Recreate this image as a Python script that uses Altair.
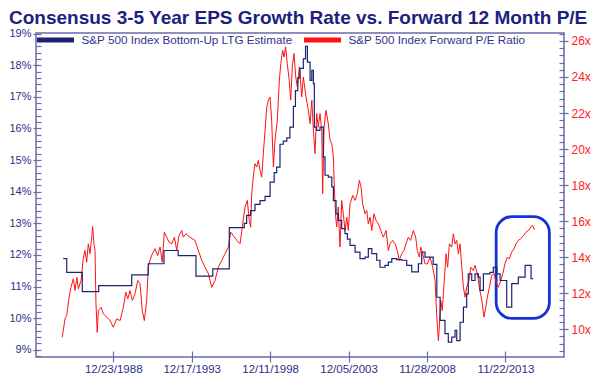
import altair as alt
import pandas as pd

# ---------------- text ----------------
title_text = "Consensus 3-5 Year EPS Growth Rate vs. Forward 12 Month P/E"
ltg_name = "S&P 500 Index Bottom-Up LTG Estimate"
pe_name = "S&P 500 Index Forward P/E Ratio"

# ---------------- data (decimal year, value) ----------------
ltg_points = [
    (1985.80, 11.88), (1986.02, 11.45), (1987.01, 10.84), (1988.05, 11.03), (1990.15, 11.37),
    (1991.20, 11.72), (1992.20, 12.14), (1993.10, 11.98), (1994.23, 11.33), (1995.30, 11.56),
    (1996.35, 12.86), (1997.30, 13.00), (1997.45, 13.25), (1997.70, 13.40), (1997.98, 13.60),
    (1998.30, 13.72), (1998.62, 13.85), (1998.94, 14.30), (1999.20, 14.60), (1999.36, 14.78),
    (1999.57, 15.50), (1999.78, 15.60), (2000.00, 15.70), (2000.20, 16.04), (2000.42, 16.70),
    (2000.55, 17.20), (2000.70, 17.60), (2000.84, 17.90), (2001.05, 18.20), (2001.19, 18.60),
    (2001.31, 18.10), (2001.48, 17.52), (2001.59, 17.84), (2001.69, 17.42), (2001.75, 16.04),
    (2001.90, 15.94), (2002.11, 16.04), (2002.32, 15.10), (2002.43, 14.52), (2002.64, 14.46),
    (2002.86, 14.15), (2002.96, 13.72), (2003.13, 13.30), (2003.27, 13.09), (2003.49, 12.83),
    (2003.70, 12.67), (2003.85, 12.50), (2004.02, 12.30), (2004.34, 12.09), (2004.65, 11.88),
    (2004.97, 11.93), (2005.18, 12.20), (2005.40, 12.04), (2005.71, 11.83), (2005.92, 11.61),
    (2006.24, 11.67), (2006.45, 11.77), (2006.67, 11.88), (2006.98, 11.85), (2007.30, 11.83),
    (2007.62, 11.67), (2007.94, 11.46), (2008.36, 11.72), (2008.57, 12.09), (2008.78, 11.93),
    (2009.30, 11.70), (2009.53, 10.66), (2009.74, 9.93), (2010.05, 9.51), (2010.26, 9.24),
    (2010.48, 9.40), (2010.69, 9.61), (2010.80, 9.29), (2011.01, 9.87), (2011.22, 10.35),
    (2011.43, 10.77), (2011.53, 11.40), (2011.75, 11.19), (2011.96, 11.40), (2012.17, 11.30),
    (2012.28, 10.88), (2012.49, 11.40), (2012.91, 11.45), (2013.12, 11.61), (2013.34, 11.40),
    (2013.55, 11.19), (2013.97, 10.35), (2014.29, 11.09), (2014.71, 11.30), (2015.14, 11.67),
    (2015.52, 11.25), (2015.65, 11.25),
]

pe_points = [
    (1985.74, 9.56), (1985.91, 10.58), (1986.02, 10.76), (1986.17, 11.78), (1986.29, 12.33),
    (1986.44, 12.80), (1986.55, 12.15), (1986.66, 12.89), (1986.76, 12.24), (1986.93, 12.70),
    (1987.07, 13.91), (1987.18, 14.37), (1987.29, 13.72), (1987.39, 14.74), (1987.50, 14.19),
    (1987.61, 15.11), (1987.67, 15.70), (1987.75, 14.74), (1987.82, 14.37), (1987.88, 11.41),
    (1987.96, 9.83), (1988.03, 11.04), (1988.20, 11.22), (1988.35, 10.86), (1988.56, 10.67),
    (1988.77, 10.48), (1988.98, 10.11), (1989.20, 10.58), (1989.41, 10.48), (1989.62, 11.22),
    (1989.77, 12.06), (1989.90, 11.69), (1990.04, 12.15), (1990.19, 11.60), (1990.36, 11.97),
    (1990.53, 12.70), (1990.68, 12.52), (1990.82, 11.04), (1990.95, 10.48), (1991.10, 11.60),
    (1991.20, 13.44), (1991.31, 13.82), (1991.46, 14.19), (1991.63, 14.47), (1991.80, 14.09),
    (1991.95, 14.56), (1992.09, 13.72), (1992.22, 15.39), (1992.37, 15.11), (1992.52, 14.83),
    (1992.69, 14.74), (1992.86, 15.11), (1993.01, 14.37), (1993.15, 15.20), (1993.33, 15.48),
    (1993.43, 15.11), (1993.60, 15.30), (1993.85, 15.11), (1994.17, 14.93), (1994.38, 14.37),
    (1994.60, 13.82), (1994.81, 13.44), (1995.02, 13.08), (1995.23, 12.33), (1995.44, 12.70),
    (1995.65, 13.44), (1995.87, 13.82), (1996.08, 14.19), (1996.29, 14.56), (1996.44, 15.39),
    (1996.60, 15.20), (1996.82, 14.93), (1997.03, 14.74), (1997.20, 15.85), (1997.35, 16.78),
    (1997.49, 17.15), (1997.62, 16.04), (1997.71, 15.67), (1997.77, 17.52), (1997.87, 18.44),
    (1997.98, 19.19), (1998.09, 19.00), (1998.19, 19.37), (1998.30, 18.82), (1998.41, 18.44),
    (1998.51, 19.74), (1998.62, 21.04), (1998.73, 22.33), (1998.83, 22.71), (1998.94, 22.89),
    (1999.04, 21.60), (1999.15, 19.00), (1999.25, 20.48), (1999.40, 21.60), (1999.53, 23.82),
    (1999.62, 24.74), (1999.74, 25.48), (1999.83, 25.11), (1999.93, 25.67), (2000.03, 24.74),
    (2000.16, 23.82), (2000.25, 22.71), (2000.35, 24.56), (2000.46, 25.30), (2000.57, 24.00),
    (2000.67, 23.44), (2000.80, 24.56), (2000.95, 22.89), (2001.05, 24.00), (2001.22, 22.89),
    (2001.37, 22.15), (2001.48, 21.41), (2001.59, 22.71), (2001.69, 21.04), (2001.79, 19.74),
    (2001.90, 21.97), (2002.00, 21.22), (2002.11, 21.97), (2002.22, 21.04), (2002.28, 17.52),
    (2002.37, 21.22), (2002.49, 22.15), (2002.64, 21.41), (2002.75, 20.48), (2002.86, 20.30),
    (2002.96, 19.56), (2003.02, 17.89), (2003.11, 16.22), (2003.17, 15.67), (2003.27, 16.78),
    (2003.38, 14.56), (2003.49, 17.15), (2003.59, 16.41), (2003.70, 15.48), (2003.81, 16.22),
    (2003.91, 15.48), (2004.02, 16.96), (2004.19, 17.43), (2004.34, 17.15), (2004.48, 17.52),
    (2004.61, 18.26), (2004.72, 17.89), (2004.82, 16.96), (2004.97, 16.41), (2005.08, 16.59),
    (2005.18, 15.85), (2005.29, 16.22), (2005.40, 15.48), (2005.54, 16.41), (2005.67, 16.04),
    (2005.82, 15.85), (2005.97, 15.48), (2006.13, 15.11), (2006.31, 15.48), (2006.45, 14.37),
    (2006.56, 14.74), (2006.73, 14.93), (2006.88, 14.74), (2007.02, 14.37), (2007.15, 13.82),
    (2007.30, 14.19), (2007.45, 14.37), (2007.57, 14.74), (2007.72, 15.11), (2007.87, 14.93),
    (2008.04, 15.48), (2008.19, 15.11), (2008.29, 14.37), (2008.42, 14.00), (2008.51, 14.56),
    (2008.64, 14.19), (2008.78, 13.63), (2008.93, 13.63), (2009.10, 14.00), (2009.27, 13.44),
    (2009.42, 12.70), (2009.53, 10.67), (2009.63, 9.37), (2009.69, 10.11), (2009.78, 11.60),
    (2009.88, 11.04), (2009.99, 12.52), (2010.12, 14.19), (2010.22, 13.44), (2010.33, 14.74),
    (2010.48, 14.56), (2010.58, 15.30), (2010.69, 14.74), (2010.80, 14.93), (2010.90, 14.19),
    (2011.01, 14.74), (2011.12, 13.44), (2011.22, 12.33), (2011.33, 11.78), (2011.43, 12.33),
    (2011.58, 12.70), (2011.69, 13.44), (2011.85, 13.26), (2011.96, 13.54), (2012.11, 13.08),
    (2012.23, 12.33), (2012.39, 11.60), (2012.53, 10.67), (2012.64, 11.22), (2012.74, 11.78),
    (2012.87, 12.33), (2013.02, 13.00), (2013.17, 13.08), (2013.29, 12.61), (2013.44, 12.33),
    (2013.59, 12.70), (2013.72, 13.08), (2013.86, 13.63), (2014.01, 14.00), (2014.14, 13.91),
    (2014.29, 14.28), (2014.44, 14.47), (2014.56, 14.74), (2014.71, 14.93), (2014.86, 15.02),
    (2015.03, 15.20), (2015.20, 15.39), (2015.35, 15.48), (2015.50, 15.67), (2015.62, 15.76),
    (2015.73, 15.52),
]

# ---------------- axes ----------------
x_tick_dates = ["1988-12-23", "1993-12-17", "1998-12-11", "2003-12-05", "2008-11-28", "2013-11-22"]
x_range_years = [1984.07, 2017.61]
ltg_domain = [8.77, 19.02]
pe_domain = [8.46, 26.44]
ltg_ticks = list(range(9, 20))
pe_ticks = list(range(10, 27, 2))
ltg_minor = [round(8.8 + 0.2 * i, 1) for i in range(52)]
pe_minor = [round(8.8 + 0.4 * i, 1) for i in range(45)]

# highlight box around the latest period (decimal years, LTG %)
box_x = [2013.30, 2016.68]
box_y = [9.99, 13.21]


def yr_to_ms(y):
    year = int(y)
    frac = y - year
    start = pd.Timestamp(year=year, month=1, day=1)
    end = pd.Timestamp(year=year + 1, month=1, day=1)
    return int((start + (end - start) * frac).value // 10**6)


def date_ms(s):
    return int(pd.Timestamp(s).value // 10**6)


W, H = 528, 324
NAVY = "#2b2f86"
AXIS = "#6a6aac"
RED_LBL = "#ff2020"
FONT = "Liberation Sans"

ltg_df = pd.DataFrame({
    "t": [yr_to_ms(a) for a, b in ltg_points],
    "v": [b for a, b in ltg_points],
    "series": ltg_name,
})
pe_df = pd.DataFrame({
    "t": [yr_to_ms(a) for a, b in pe_points],
    "v": [b for a, b in pe_points],
    "series": pe_name,
})
box_df = pd.DataFrame({
    "x0": [yr_to_ms(box_x[0])], "x1": [yr_to_ms(box_x[1])],
    "y0": [box_y[0]], "y1": [box_y[1]],
})

x_scale = alt.Scale(domain=[yr_to_ms(x_range_years[0]), yr_to_ms(x_range_years[1])])
ltg_scale = alt.Scale(domain=ltg_domain, nice=False, zero=False)
pe_scale = alt.Scale(domain=pe_domain, nice=False, zero=False)
x_vals = [date_ms(d) for d in x_tick_dates]

color_scale = alt.Scale(domain=[ltg_name, pe_name], range=["#1e2272", "#ff1212"])
legend = alt.Legend(
    orient="none", legendX=-1.5, legendY=-14, direction="horizontal", title=None,
    symbolType="stroke", symbolSize=1369, symbolStrokeWidth=5,
    labelFontSize=11.7, labelFont=FONT, labelColor="#33338c", labelOffset=5,
    columnPadding=1, labelLimit=400, padding=0,
)

x_main_axis = alt.Axis(
    orient="bottom", values=x_vals, labelExpr="utcFormat(datum.value, '%m/%d/%Y')",
    tickSize=5, tickColor=AXIS, tickWidth=1.2, labelPadding=1, domain=False, grid=False,
    labelFontSize=11.5, labelFont=FONT, labelColor=NAVY, title=None, labelFlush=False,
)
ltg_axis = alt.Axis(
    orient="left", values=ltg_ticks, labelExpr="datum.value + '%'", tickSize=3,
    tickColor=AXIS, tickWidth=1.2, labelPadding=2, domain=False, grid=False,
    labelFontSize=11, labelFont=FONT, labelColor=NAVY, title=None,
)
pe_axis = alt.Axis(
    orient="right", values=pe_ticks, labelExpr="datum.value + 'x'", tickSize=4,
    tickColor=AXIS, tickWidth=1.2, labelPadding=3, domain=False, grid=False,
    labelFontSize=12, labelFont=FONT, labelColor=RED_LBL, title=None,
)

box = alt.Chart(box_df).mark_rect(
    fillOpacity=0, stroke="#1530d8", strokeWidth=2.8, cornerRadius=16
).encode(
    x=alt.X("x0:T", scale=x_scale, axis=None),
    x2="x1:T",
    y=alt.Y("y0:Q", scale=ltg_scale, axis=None),
    y2="y1:Q",
)

red = alt.Chart(pe_df).mark_line(strokeWidth=1).encode(
    x=alt.X("t:T", scale=x_scale, axis=None),
    y=alt.Y("v:Q", scale=pe_scale, axis=pe_axis),
    color=alt.Color("series:N", scale=color_scale, legend=legend),
)

blue = alt.Chart(ltg_df).mark_line(strokeWidth=1.2, interpolate="step-after").encode(
    x=alt.X("t:T", scale=x_scale, axis=x_main_axis),
    y=alt.Y("v:Q", scale=ltg_scale, axis=ltg_axis),
    color=alt.Color("series:N", scale=color_scale, legend=legend),
)

# inward minor ticks (invisible marks carrying extra axes)
ltg_inner = alt.Chart(ltg_df).mark_line(opacity=0).encode(
    x=alt.X("t:T", scale=x_scale, axis=None),
    y=alt.Y("v:Q", scale=ltg_scale, axis=alt.Axis(
        orient="right", offset=-W, values=ltg_minor, labels=False, domain=False,
        grid=False, tickSize=5, tickColor=AXIS, tickWidth=1.2, title=None)),
)
pe_inner = alt.Chart(pe_df).mark_line(opacity=0).encode(
    x=alt.X("t:T", scale=x_scale, axis=None),
    y=alt.Y("v:Q", scale=pe_scale, axis=alt.Axis(
        orient="left", offset=-W, values=pe_minor, labels=False, domain=False,
        grid=False, tickSize=5, tickColor=AXIS, tickWidth=1.2, title=None)),
)
x_inner = alt.Chart(ltg_df).mark_line(opacity=0).encode(
    x=alt.X("t:T", scale=x_scale, axis=alt.Axis(
        orient="top", offset=-H, values=x_vals, labels=False, domain=False,
        grid=False, tickSize=6, tickColor=AXIS, tickWidth=1.2, title=None)),
    y=alt.Y("v:Q", scale=ltg_scale, axis=None),
)

chart = alt.layer(box, red, blue, ltg_inner, pe_inner, x_inner).resolve_scale(
    x="independent", y="independent"
).properties(
    width=W, height=H,
    title=alt.TitleParams(
        text=title_text, anchor="start", frame="group", dx=-27, offset=-9,
        fontSize=19, font=FONT, fontWeight="bold", color="#1c2180",
    ),
    autosize=alt.AutoSizeParams(type="none"),
    padding={"left": 28, "top": 25, "right": 28, "bottom": 16},
).configure_view(stroke=AXIS, strokeWidth=1.5)

chart.save("out.html", embed_options={"renderer": "svg", "actions": False})
